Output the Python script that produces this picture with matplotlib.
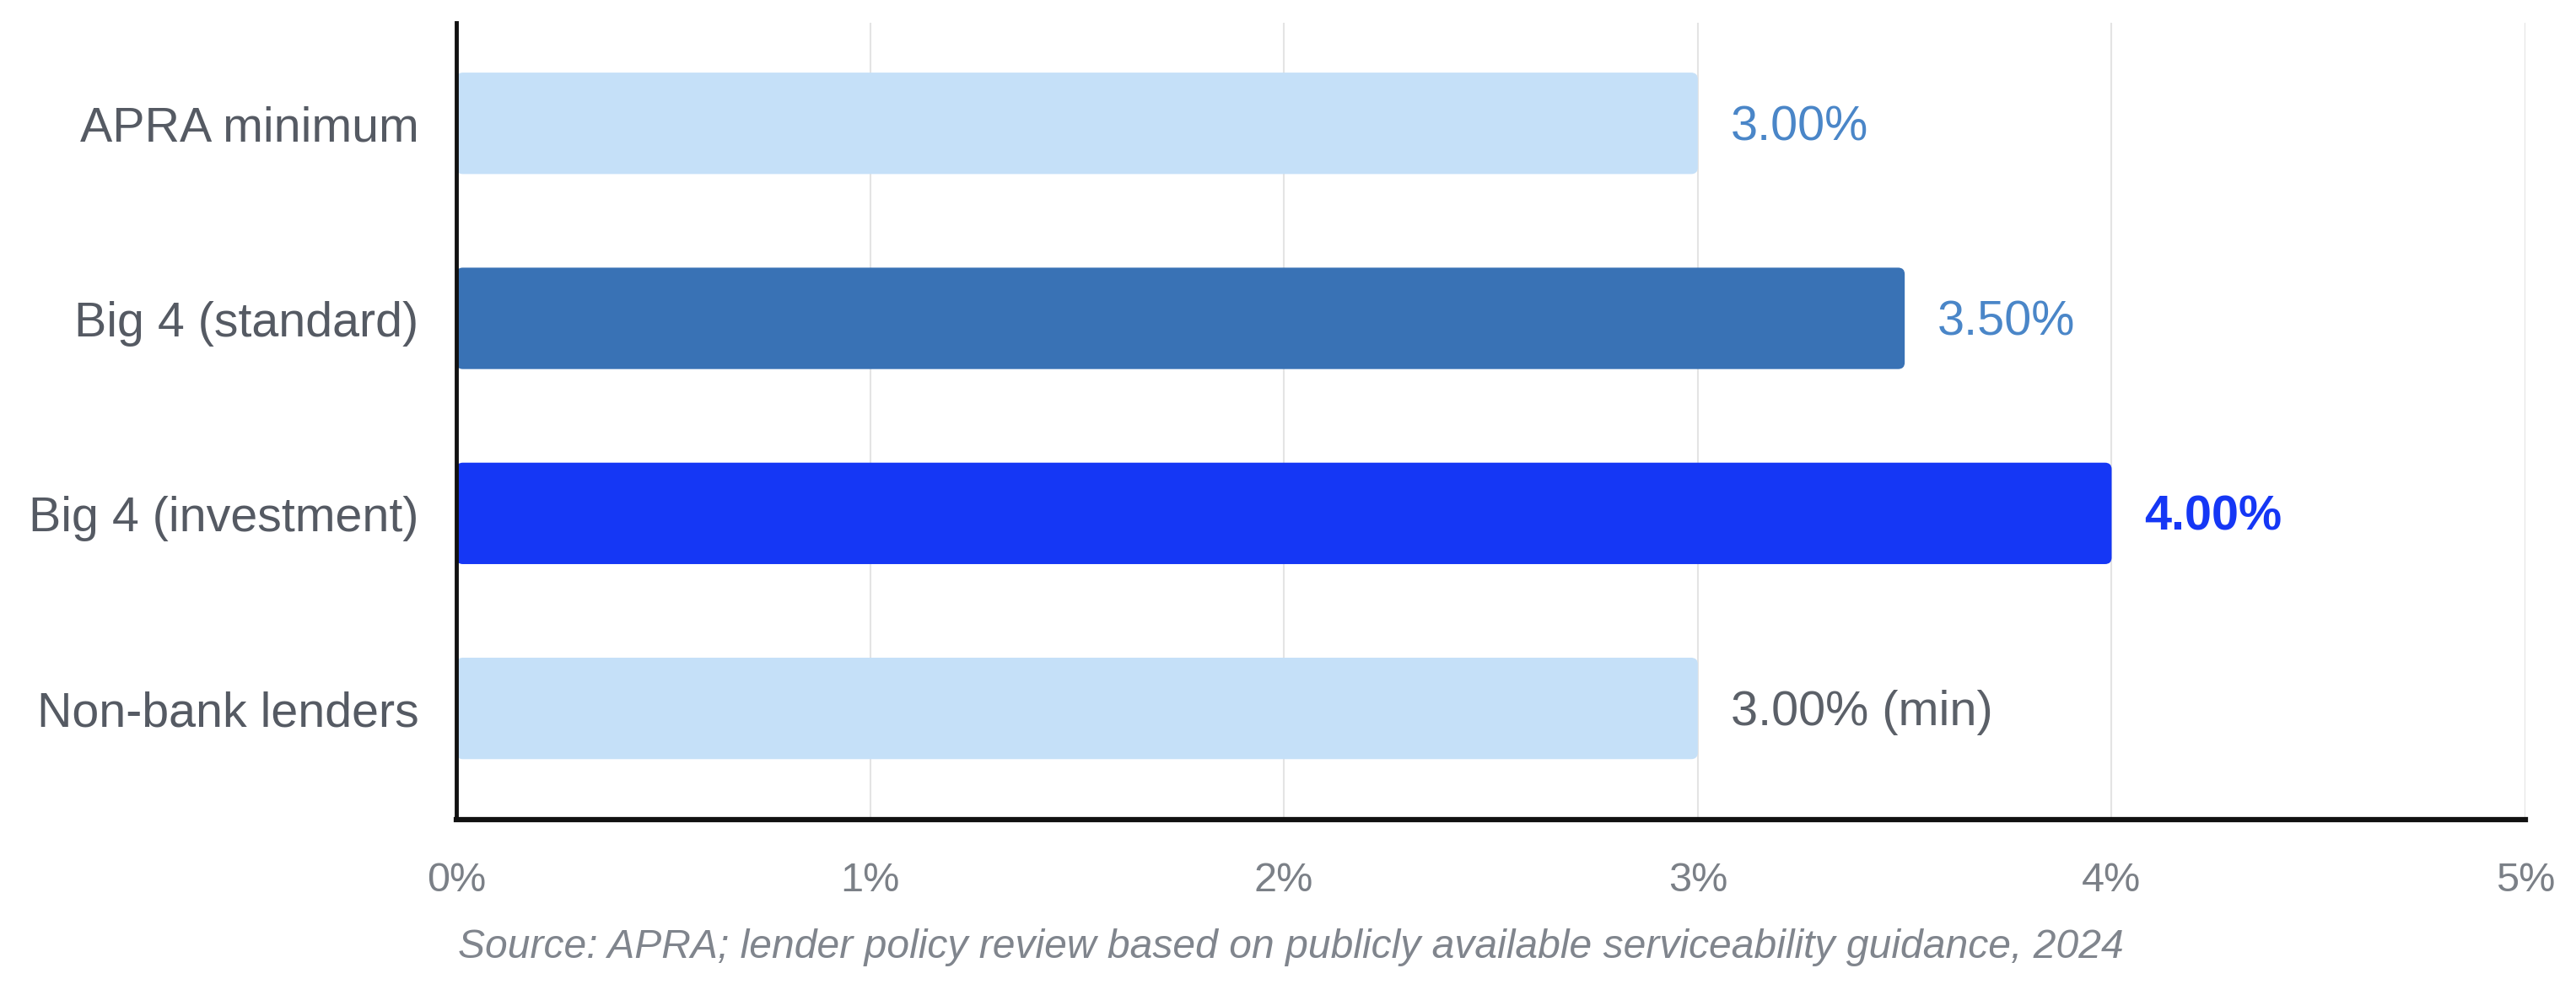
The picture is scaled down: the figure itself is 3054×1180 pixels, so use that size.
import matplotlib

matplotlib.use("Agg")
import matplotlib.pyplot as plt
from matplotlib.patches import FancyBboxPatch
from matplotlib.ticker import FuncFormatter

categories = ["APRA minimum", "Big 4 (standard)", "Big 4 (investment)", "Non-bank lenders"]
buffer_pct = [3.0, 3.5, 4.0, 3.0]
value_labels = ["3.00%", "3.50%", "4.00%", "3.00% (min)"]
bar_colors = ["#c5e0f8", "#3972b5", "#1537f5", "#c5e0f8"]
label_colors = ["#4a86c8", "#4a86c8", "#1537f5", "#5b6068"]
label_weights = ["normal", "normal", "bold", "normal"]
x_ticks = [0, 1, 2, 3, 4, 5]
source_note = "Source: APRA; lender policy review based on publicly available serviceability guidance, 2024"

plt.rcParams["font.family"] = ["Liberation Sans", "DejaVu Sans"]

fig = plt.figure(figsize=(30.54, 11.8), dpi=100)
ax = fig.add_axes([0.1771, 0.1763, 0.8033, 0.8007])

ypos = list(range(len(categories)))
bars = ax.barh(ypos, buffer_pct, height=0.52, color=bar_colors, zorder=2)

# swap the square bars for slightly rounded ones
for bar in bars:
    x0, y0 = bar.get_x(), bar.get_y()
    w, h = bar.get_width(), bar.get_height()
    rounded = FancyBboxPatch(
        (x0, y0), w, h,
        boxstyle="round,pad=0,rounding_size=0.016",
        mutation_aspect=2.1,
        facecolor=bar.get_facecolor(), edgecolor="none", zorder=2,
    )
    bar.remove()
    ax.add_patch(rounded)

for y, v, txt, col, wt in zip(ypos, buffer_pct, value_labels, label_colors, label_weights):
    ax.annotate(txt, (v, y), xytext=(39, -5), textcoords="offset pixels",
                va="center", ha="left", fontsize=41.5, color=col, fontweight=wt)

ax.set_xlim(0, 5)
ax.set_ylim(3.57, -0.515)
ax.set_yticks(ypos)
ax.set_yticklabels(categories)
ax.set_xticks(x_ticks)
ax.xaxis.set_major_formatter(FuncFormatter(lambda v, _: f"{v:.0f}%"))

ax.tick_params(axis="y", length=0, pad=32, labelsize=41.3, labelcolor="#555a63")
ax.tick_params(axis="x", length=0, pad=36, labelsize=35, labelcolor="#7b8087")

ax.grid(axis="x", color="#e4e4e4", linewidth=1.5, zorder=0)
ax.set_axisbelow(True)
for side in ("top", "right"):
    ax.spines[side].set_visible(False)
ax.spines["left"].set_linewidth(3.5)
ax.spines["bottom"].set_linewidth(4.5)
ax.spines["left"].set_color("#111111")
ax.spines["bottom"].set_color("#111111")

fig.text(0.1778, 0.0475, source_note, fontsize=34.6, style="italic", color="#80858d",
         ha="left", va="center")

fig.savefig("out.png", dpi=100, facecolor="white")
